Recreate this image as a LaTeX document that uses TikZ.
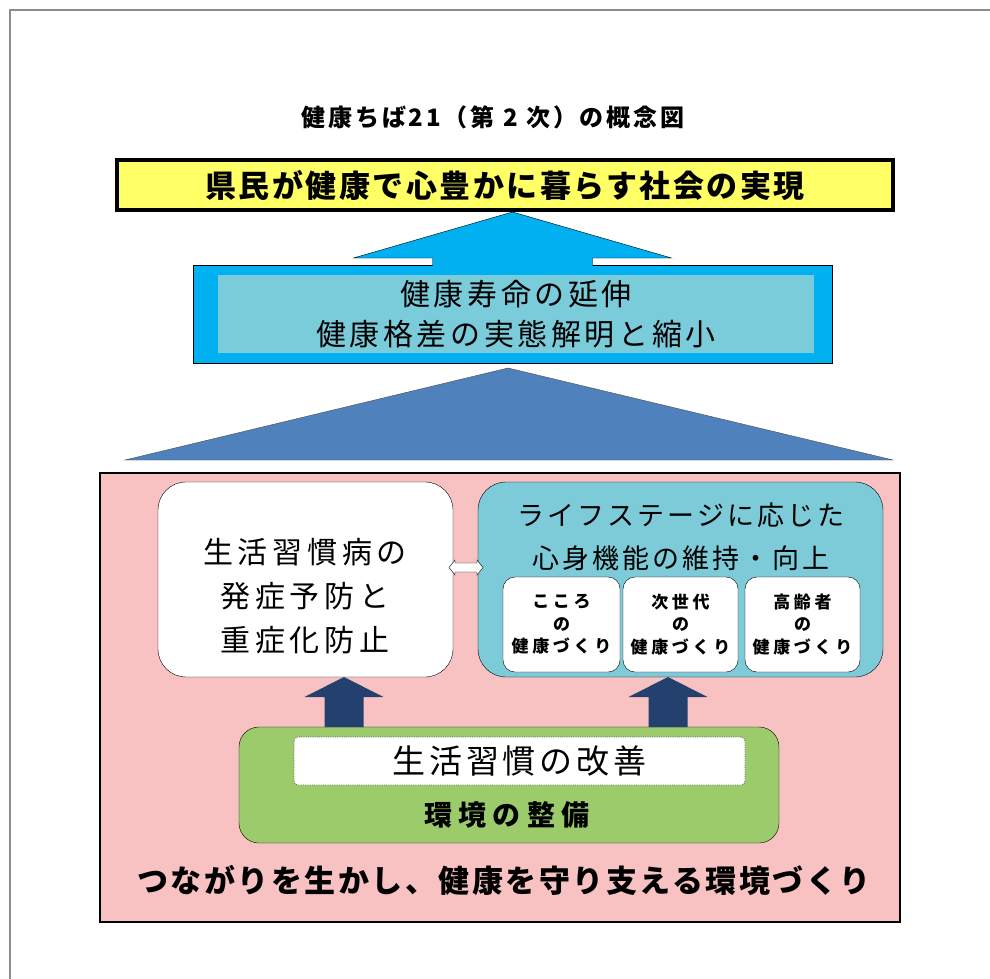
\documentclass[tikz,border=0pt]{standalone}
\usepackage{fontspec}
\setmainfont{Noto Sans CJK JP}
\usetikzlibrary{positioning,calc}
\definecolor{goalyellow}{HTML}{FFFF66}
\definecolor{skyblue}{HTML}{00B0F0}
\definecolor{paleteal}{HTML}{7ACCDB}
\definecolor{roofblue}{HTML}{4F81BD}
\definecolor{basepink}{HTML}{F8C2C2}
\definecolor{lifeteal}{HTML}{7DCAD8}
\definecolor{navyarrow}{HTML}{24406E}
\definecolor{envgreen}{HTML}{9BCB6B}
\definecolor{framegray}{HTML}{8C8C8C}
\begin{document}
\begin{tikzpicture}[x=1pt,y=-1pt,
  panel/.style={draw=black,inner sep=0pt,outer sep=0pt},
  goalbox/.style={panel,fill=goalyellow,line width=3.5pt,minimum width=776pt,minimum height=50pt,
    font=\fontsize{31}{31}\selectfont\bfseries\addfontfeature{LetterSpace=8}},
  aimbox/.style={panel,fill=skyblue,thin,minimum width=639pt,minimum height=98pt},
  aiminner/.style={fill=paleteal,inner sep=0pt,minimum width=596pt,minimum height=78pt,align=center,
    font=\fontsize{30}{40}\selectfont\addfontfeature{LetterSpace=12}},
  roundbox/.style={panel,thin,rounded corners=28pt},
  smallbox/.style={panel,thin,fill=white,rounded corners=12pt,minimum width=115pt,minimum height=95pt,
    align=center,font=\fontsize{17}{22.5}\selectfont\bfseries\addfontfeature{LetterSpace=22}},
  habitbox/.style={draw=black!60,line width=0.8pt,densely dotted,fill=white,rounded corners=4pt,inner sep=0pt,
    minimum width=451pt,minimum height=48pt,font=\fontsize{33}{33}\selectfont\addfontfeature{LetterSpace=12}}]
  \useasboundingbox (0,0) rectangle (990,979);
  \draw[framegray,line width=1.5pt] (10,979) -- (10,10) -- (990,10);

  \node[font=\fontsize{24}{24}\selectfont\bfseries\addfontfeature{LetterSpace=12}] (title) at (493,117) {健康ちば21（第 2 次）の概念図};
  \node[goalbox] (goal) at (505,185) {県民が健康で心豊かに暮らす社会の実現};

  % upward arrow into the goal
  \node[aimbox] (aim) at (512.5,314) {};
  \coordinate (tipA) at ($(aim.north |- goal.south)+(0,2)$);
  \fill[skyblue] ($(aim.north)+(-80,2)$) -- ($(tipA)+(-80,46)$) -- ($(tipA)+(-159,46)$) -- (tipA)
    -- ($(tipA)+(159,46)$) -- ($(tipA)+(80,46)$) -- ($(aim.north)+(80,2)$) -- cycle;
  \draw[thin] ($(aim.north)+(-80,0)$) -- ($(tipA)+(-80,46)$) -- ($(tipA)+(-159,46)$) -- (tipA)
    -- ($(tipA)+(159,46)$) -- ($(tipA)+(80,46)$) -- ($(aim.north)+(80,0)$);
  \node[aiminner] (aimin) at (516,314) {健康寿命の延伸\\健康格差の実態解明と縮小};

  % roof
  \draw[fill=roofblue,draw=black!70,thin] (508,368) -- (893,460) -- (125,460) -- cycle;

  % base
  \node[panel,fill=basepink,line width=1.2pt,minimum width=800pt,minimum height=449pt] (base) at (500,697.5) {};

  \node[roundbox,fill=white,minimum width=295pt,minimum height=195pt] (prev) at (305.5,579.5) {};
  \node[align=center,font=\fontsize{30}{44}\selectfont\addfontfeature{LetterSpace=16}] (prevtext) at (305,596) {生活習慣病の\\発症予防と\\重症化防止};

  \node[roundbox,fill=lifeteal,minimum width=405pt,minimum height=195pt] (life) at (680.5,579.5) {};
  \node[align=center,font=\fontsize{27}{43}\selectfont\addfontfeature{LetterSpace=11}] (lifetext) at (681,537) {ライフステージに応じた\\心身機能の維持・向上};
  \node[smallbox,minimum width=117pt] (mind) at (561.5,624.5) {こころ\\の\\健康づくり};
  \node[smallbox,right=3pt of mind] (nextgen) {次世代\\の\\健康づくり};
  \node[smallbox,right=7pt of nextgen] (elder) {高齢者\\の\\健康づくり};

  % two-way arrow
  \coordinate (dl) at ($(prev.east)+(-4,-12)$);
  \coordinate (dr) at ($(life.west)+(5,-12)$);
  \draw[fill=white,thin] (dl) -- ($(dl)+(6,-7.5)$) -- ($(dl)+(6,-4.5)$) -- ($(dr)+(-6,-4.5)$) -- ($(dr)+(-6,-7.5)$)
    -- (dr) -- ($(dr)+(-6,7.5)$) -- ($(dr)+(-6,4.5)$) -- ($(dl)+(6,4.5)$) -- ($(dl)+(6,7.5)$) -- cycle;

  % green block and arrows
  \node[roundbox,fill=envgreen,rounded corners=20pt,minimum width=540pt,minimum height=116pt] (env) at (509,785) {};
  \coordinate (la) at (344,0);
  \coordinate (ra) at (668,0);
  \fill[navyarrow] ($(la |- env.north)+(-19.5,0)$) -- ($(la |- prev.south)+(-19.5,20)$) -- ($(la |- prev.south)+(-39.5,20)$)
    -- (la |- prev.south) -- ($(la |- prev.south)+(39.5,20)$) -- ($(la |- prev.south)+(19.5,20)$) -- ($(la |- env.north)+(19.5,0)$) -- cycle;
  \fill[navyarrow] ($(ra |- env.north)+(-19.5,0)$) -- ($(ra |- life.south)+(-19.5,20)$) -- ($(ra |- life.south)+(-39.5,20)$)
    -- (ra |- life.south) -- ($(ra |- life.south)+(39.5,20)$) -- ($(ra |- life.south)+(19.5,20)$) -- ($(ra |- env.north)+(19.5,0)$) -- cycle;
  \node[habitbox] (habit) at (519.5,761) {生活習慣の改善};
  \node[font=\fontsize{28}{28}\selectfont\bfseries\addfontfeature{LetterSpace=22}] (envtext) at (507,815) {環境の整備};

  \node[font=\fontsize{31}{31}\selectfont\bfseries\addfontfeature{LetterSpace=8}] (slogan) at (504,880) {つながりを生かし、健康を守り支える環境づくり};
\end{tikzpicture}
\end{document}
